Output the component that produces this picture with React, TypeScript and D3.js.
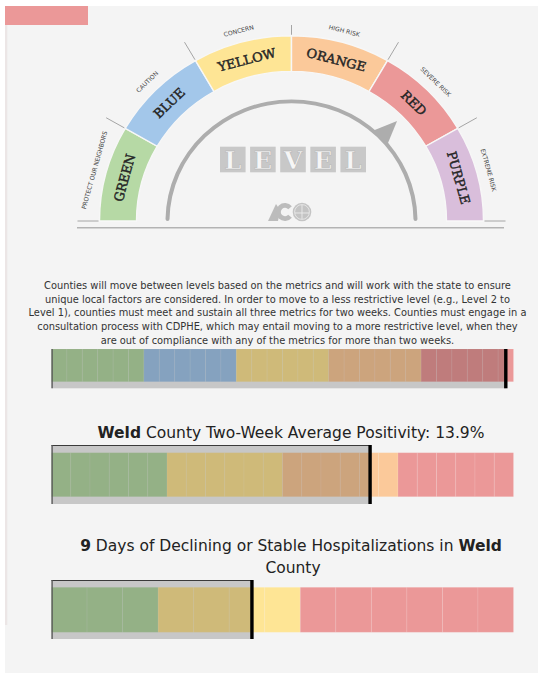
import React from 'react';
import * as d3 from 'd3';

// ---- data ----
const gaugeLevels = ['GREEN', 'BLUE', 'YELLOW', 'ORANGE', 'RED', 'PURPLE'];
const gaugeRisks = ['PROTECT OUR NEIGHBORS', 'CAUTION', 'CONCERN', 'HIGH RISK', 'SEVERE RISK', 'EXTREME RISK'];
const gaugeColors = ['#b6d9a5', '#a3c7ea', '#fee595', '#fbc99a', '#eb9898', '#d9bedb'];
const levelWord = ['L', 'E', 'V', 'E', 'L'];

const noteLines = [
  'Counties will move between levels based on the metrics and will work with the state to ensure',
  'unique local factors are considered. In order to move to a less restrictive level (e.g., Level 2 to',
  'Level 1), counties must meet and sustain all three metrics for two weeks. Counties must engage in a',
  'consultation process with CDPHE, which may entail moving to a more restrictive level, when they',
  'are out of compliance with any of the metrics for more than two weeks.',
];

const bandColor: Record<string, string> = {
  green: '#b6d9a5',
  blue: '#a3c7ea',
  yellow: '#fee595',
  orange: '#fbc99a',
  red: '#eb9898',
};

// overall level bar
const levelBands = ['green', 'blue', 'yellow', 'orange', 'red'];
const levelCells = [6, 6, 6, 6, 6];
const levelValue = 29.5;

// positivity bar
const countyName = 'Weld';
const positivityLabel = '13.9%';
const positivityBands = ['green', 'yellow', 'orange', 'red'];
const positivityCells = [6, 6, 6, 6];
const positivityValue = 16.55;

// hospitalization bar
const hospDays = 9;
const hospBands = ['green', 'yellow', 'red'];
const hospCells = [3, 4, 6];
const hospValue = 5.64;

// ---- layout ----
const W = 538;
const H = 673;
const BAR_X0 = 51.5;
const BAR_X1 = 513.5;
const COND = '"DejaVu Sans Condensed", "DejaVu Sans", sans-serif';
const SANS = '"DejaVu Sans", sans-serif';

const cx = 291.5;
const cy = 221;
const sy = 0.965;
const R_IN = 155;
const R_OUT = 192;

const rad = (deg: number) => (deg * Math.PI) / 180;
// theta: 0 = left, 90 = top, 180 = right
const polar = (theta: number, r: number): [number, number] => [
  -r * Math.cos(rad(theta)),
  -r * Math.sin(rad(theta)),
];

type BarSpec = {
  bands: string[];
  cells: number[];
  value: number;
  top: number;
  bottom: number;
  bandTop: number;
  bandBottom: number;
  topEdge: boolean;
};

function Bullet({ spec }: { spec: BarSpec }) {
  const total = d3.sum(spec.cells);
  const x = d3.scaleLinear().domain([0, total]).range([BAR_X0, BAR_X1]);
  const starts = Array.from(d3.cumsum([0, ...spec.cells]));
  const cells = spec.bands.flatMap((b, i) =>
    d3.range(spec.cells[i]).map((j) => ({ color: bandColor[b], v0: starts[i] + j, v1: starts[i] + j + 1 }))
  );
  return (
    <g>
      {cells.map((c, i) => (
        <rect
          key={i}
          x={x(c.v0)}
          y={spec.bandTop}
          width={x(c.v1) - x(c.v0)}
          height={spec.bandBottom - spec.bandTop}
          fill={c.color}
          stroke="#ffffff"
          strokeOpacity={0.1}
          strokeWidth={1}
        />
      ))}
      {/* measure */}
      <rect
        x={x(0)}
        y={spec.top}
        width={x(spec.value) - x(0)}
        height={spec.bottom - spec.top}
        fill="#000"
        fillOpacity={0.185}
      />
      {spec.topEdge && (
        <line x1={x(0)} x2={x(spec.value)} y1={spec.top + 0.5} y2={spec.top + 0.5} stroke="#3a3a3a" strokeWidth={1.2} />
      )}
      <line x1={x(0) + 0.6} x2={x(0) + 0.6} y1={spec.top} y2={spec.bottom} stroke="#555" strokeWidth={1.3} />
      <rect x={x(spec.value) - 1.7} y={spec.top} width={3.4} height={spec.bottom - spec.top} fill="#000" />
    </g>
  );
}

function Gauge() {
  const seg = d3.arc<any>().innerRadius(R_IN).outerRadius(R_OUT);
  const ring = d3
    .arc<any>()
    .innerRadius(122)
    .outerRadius(126)
    .cornerRadius(2)({ startAngle: -Math.PI / 2, endAngle: Math.PI / 2 } as any);
  const ticks = d3.range(0, 181, 30);
  const fin = [polar(131, 124), polar(135.5, 148), polar(140.5, 124)];
  return (
    <g clipPath="url(#gclip)">
      <g transform={`translate(${cx},${cy}) scale(1,${sy})`}>
        {gaugeLevels.map((name, i) => (
          <path
            key={name}
            d={seg({ startAngle: rad(30 * i - 90), endAngle: rad(30 * (i + 1) - 90) }) as string}
            fill={gaugeColors[i]}
            stroke="#f7f7f7"
            strokeWidth={1.4}
          />
        ))}
        {ticks.map((t) => {
          const [x1, y1] = polar(t, 193);
          const [x2, y2] = polar(t, 214);
          return <line key={t} x1={x1} y1={y1} x2={x2} y2={y2} stroke="#9a9a9a" strokeWidth={0.9} />;
        })}
        {gaugeLevels.map((name, i) => {
          const th = 15 + 30 * i;
          const [x, y] = polar(th, 173);
          return (
            <text
              key={name}
              transform={`translate(${x},${y}) rotate(${th - 90})`}
              textAnchor="middle"
              dy="0.36em"
              fontFamily='"DejaVu Serif", serif'
              fontSize={13}
              fill="#262626"
              stroke="#262626"
              strokeWidth={0.45}
            >
              {name}
            </text>
          );
        })}
        {gaugeRisks.map((name, i) => {
          const th = 15 + 30 * i;
          const [x, y] = polar(th, 204);
          return (
            <text
              key={name}
              transform={`translate(${x},${y}) rotate(${th - 90})`}
              textAnchor="middle"
              dy="0.35em"
              fontFamily={SANS}
              fontSize={6.2}
              fill="#444"
            >
              {name}
            </text>
          );
        })}
        <path d={ring as string} fill="#adadad" />
        <path d={`M${fin.map((p) => p.join(',')).join('L')}Z`} fill="#adadad" />
      </g>
    </g>
  );
}

function LevelWord() {
  const bx = d3.scaleBand<number>().domain(d3.range(levelWord.length)).range([220, 366]).paddingInner(0.15);
  return (
    <g>
      {levelWord.map((ch, i) => (
        <g key={i}>
          <rect x={bx(i)} y={146.7} width={bx.bandwidth()} height={25.6} fill="#c8c8c8" />
          <text
            x={(bx(i) as number) + bx.bandwidth() / 2}
            y={169.3}
            textAnchor="middle"
            fontFamily='"DejaVu Serif", serif'
            fontWeight="bold"
            fontSize={24.5}
            fill="#f6f6f6"
            stroke="#b0b0b0"
            strokeWidth={0.5}
          >
            {ch}
          </text>
        </g>
      ))}
    </g>
  );
}

function Logo() {
  const c = d3
    .arc<any>()
    .innerRadius(4.2)
    .outerRadius(9)({ startAngle: Math.PI / 2 + 0.7, endAngle: Math.PI / 2 + 2 * Math.PI - 0.7 } as any);
  return (
    <g>
      <path d="M268,221 L276,204 L280,210 L278,221 Z" fill="#bcbcbc" />
      <path d={c as string} transform="translate(285,212)" fill="#bcbcbc" />
      <circle cx={302} cy={212} r={9.3} fill="#c4c4c4" />
      <circle cx={302} cy={212} r={7.4} fill="none" stroke="#ececec" strokeWidth={0.8} />
      <line x1={295} x2={309} y1={213} y2={213} stroke="#ececec" strokeWidth={0.9} />
      <line x1={302} x2={302} y1={205} y2={219} stroke="#ececec" strokeWidth={0.9} />
    </g>
  );
}

export default function App() {
  const bar1: BarSpec = {
    bands: levelBands, cells: levelCells, value: levelValue,
    top: 349, bottom: 388.3, bandTop: 349, bandBottom: 381.7, topEdge: false,
  };
  const bar2: BarSpec = {
    bands: positivityBands, cells: positivityCells, value: positivityValue,
    top: 445, bottom: 504, bandTop: 452.7, bandBottom: 496.7, topEdge: true,
  };
  const bar3: BarSpec = {
    bands: hospBands, cells: hospCells, value: hospValue,
    top: 580, bottom: 639, bandTop: 587.3, bandBottom: 632.3, topEdge: true,
  };
  return (
    <svg
      width={W}
      height={H}
      viewBox={`0 0 ${W} ${H}`}
      style={{ position: 'absolute', left: 0, top: 0, display: 'block' }}
    >
      <defs>
        <clipPath id="gclip">
          <rect x={0} y={25} width={W} height={220} />
        </clipPath>
      </defs>
      <rect width={W} height={H} fill="#ffffff" />
      <rect x={5} y={6} width={W - 5} height={H - 6} fill="#f4f4f4" />
      <rect x={5} y={25} width={2.3} height={600} fill="#ece6e6" />
      <rect x={5} y={6} width={83} height={19} fill="#eb9898" />

      <Gauge />
      <line x1={77} x2={504} y1={227.7} y2={227.7} stroke="#b3b3b3" strokeWidth={1.5} />
      <LevelWord />
      <Logo />

      <g fontFamily={COND} fontSize={10.95} fill="#333" textAnchor="middle">
        {noteLines.map((l, i) => (
          <text key={i} x={277.5} y={289 + i * 13.7}>
            {l}
          </text>
        ))}
      </g>
      <Bullet spec={bar1} />

      <text x={291} y={437.5} textAnchor="middle" fontFamily={SANS} fontSize={15.5} fill="#222">
        <tspan fontWeight="bold">{countyName}</tspan> County Two-Week Average Positivity: {positivityLabel}
      </text>
      <Bullet spec={bar2} />

      <g fontFamily={SANS} fontSize={15.5} fill="#222" textAnchor="middle">
        <text x={291} y={550.5}>
          <tspan fontWeight="bold">{hospDays}</tspan> Days of Declining or Stable Hospitalizations in{' '}
          <tspan fontWeight="bold">{countyName}</tspan>
        </text>
        <text x={293} y={573}>County</text>
      </g>
      <Bullet spec={bar3} />
    </svg>
  );
}
